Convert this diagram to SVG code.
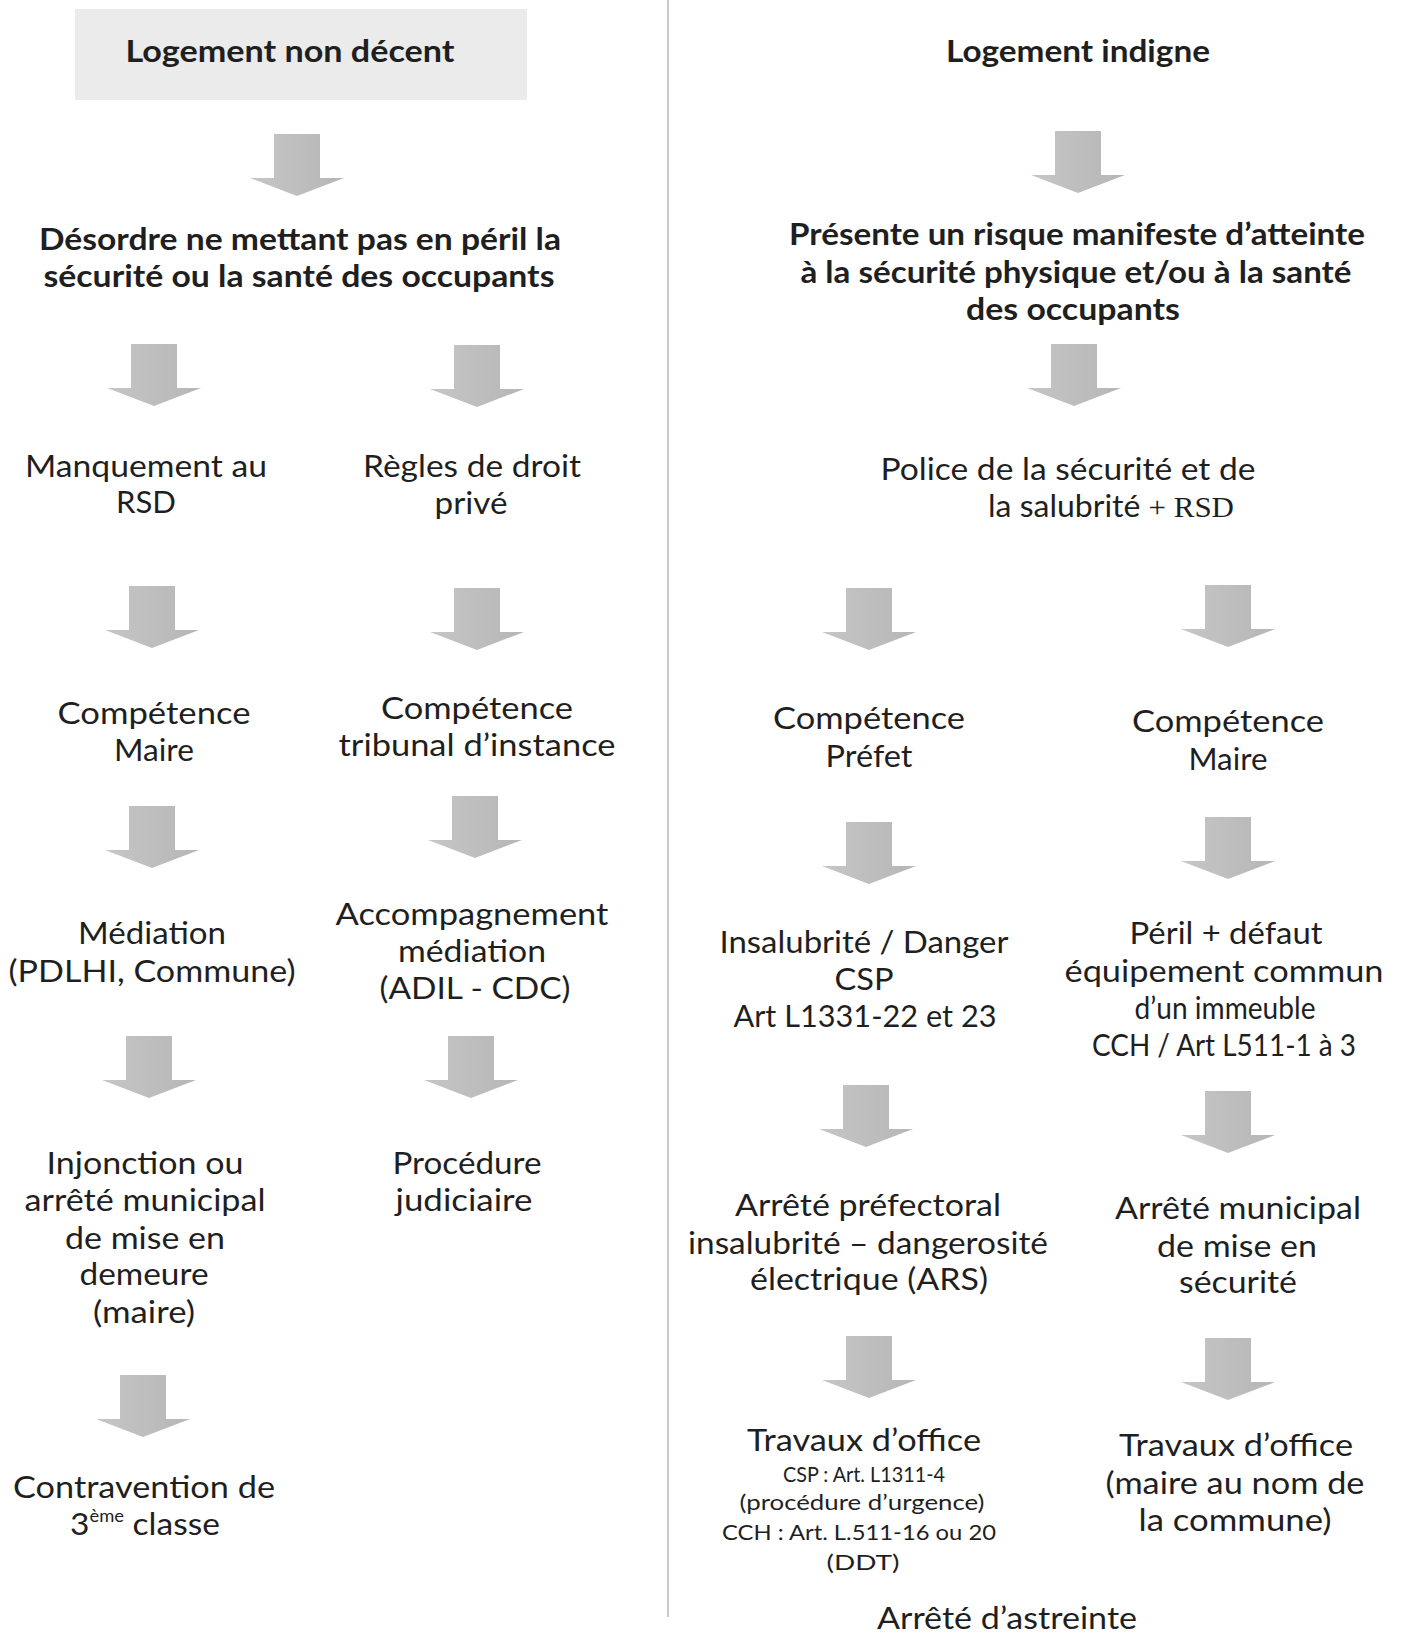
<svg xmlns="http://www.w3.org/2000/svg" width="1403" height="1636" viewBox="0 0 1403 1636">
<defs>
<linearGradient id="ag" x1="0" y1="0" x2="1" y2="0">
<stop offset="0" stop-color="#c6c6c6"/><stop offset="1" stop-color="#b6b6b6"/>
</linearGradient>
<path id="arrow" d="M-23,0 H23 V44 H47 L0,62 L-47,44 H-23 Z" fill="url(#ag)"/>
</defs>
<style>
text{font-family:Lato,"Liberation Sans",sans-serif;fill:#1f1f1f;text-anchor:middle}
.b{font-weight:700;font-size:31px}
.r{font-size:31px}
.s{font-size:22px}
.serif{font-family:"Liberation Serif",serif}
</style>
<rect width="1403" height="1636" fill="#ffffff"/>
<line x1="668" y1="0" x2="668" y2="1617" stroke="#c9c9c9" stroke-width="2"/>

<g id="connectors">
<use href="#arrow" x="297" y="134"/>
<use href="#arrow" x="1078" y="131"/>
<use href="#arrow" x="154" y="344"/>
<use href="#arrow" x="477" y="345"/>
<use href="#arrow" x="1074" y="344"/>
<use href="#arrow" x="152" y="586"/>
<use href="#arrow" x="477" y="588"/>
<use href="#arrow" x="869" y="588"/>
<use href="#arrow" x="1228" y="585"/>
<use href="#arrow" x="152" y="806"/>
<use href="#arrow" x="475" y="796"/>
<use href="#arrow" x="869" y="822"/>
<use href="#arrow" x="1228" y="817"/>
<use href="#arrow" x="149" y="1036"/>
<use href="#arrow" x="471" y="1036"/>
<use href="#arrow" x="866" y="1085"/>
<use href="#arrow" x="1228" y="1091"/>
<use href="#arrow" x="143" y="1375"/>
<use href="#arrow" x="869" y="1336"/>
<use href="#arrow" x="1228" y="1338"/>
</g>

<g id="n-logement-non-decent">
<rect x="75" y="9" width="452" height="91" fill="#ebebeb"/>
<text class="b" x="290" y="62" textLength="329" lengthAdjust="spacingAndGlyphs">Logement non décent</text>
</g>
<g id="n-logement-indigne">
<text class="b" x="1078" y="62" textLength="264" lengthAdjust="spacingAndGlyphs">Logement indigne</text>
</g>
<g id="n-desordre">
<text class="b" x="300" y="250" textLength="522" lengthAdjust="spacingAndGlyphs">Désordre ne mettant pas en péril la</text>
<text class="b" x="299" y="287" textLength="511" lengthAdjust="spacingAndGlyphs">sécurité ou la santé des occupants</text>
</g>
<g id="n-presente">
<text class="b" x="1077" y="245" textLength="576" lengthAdjust="spacingAndGlyphs">Présente un risque manifeste d’atteinte</text>
<text class="b" x="1076" y="283" textLength="551" lengthAdjust="spacingAndGlyphs">à la sécurité physique et/ou à la santé</text>
<text class="b" x="1073" y="320" textLength="214" lengthAdjust="spacingAndGlyphs">des occupants</text>
</g>

<g id="n-manquement">
<text class="r" x="146" y="477" textLength="242" lengthAdjust="spacingAndGlyphs">Manquement au</text>
<text class="r" x="146" y="513" textLength="60" lengthAdjust="spacingAndGlyphs">RSD</text>
</g>
<g id="n-regles">
<text class="r" x="472" y="477" textLength="218" lengthAdjust="spacingAndGlyphs">Règles de droit</text>
<text class="r" x="471" y="514" textLength="73" lengthAdjust="spacingAndGlyphs">privé</text>
</g>
<g id="n-police">
<text class="r" x="1068" y="480" textLength="375" lengthAdjust="spacingAndGlyphs">Police de la sécurité et de</text>
<text class="r" x="988" y="517" style="text-anchor:start" textLength="246" lengthAdjust="spacingAndGlyphs">la salubrité <tspan class="serif" font-size="30">+ RSD</tspan></text>
</g>

<g id="n-competence-maire-l">
<text class="r" x="154" y="724" textLength="193" lengthAdjust="spacingAndGlyphs">Compétence</text>
<text class="r" x="154" y="761" textLength="80" lengthAdjust="spacingAndGlyphs">Maire</text>
</g>
<g id="n-competence-tribunal">
<text class="r" x="477" y="719" textLength="192" lengthAdjust="spacingAndGlyphs">Compétence</text>
<text class="r" x="477" y="756" textLength="277" lengthAdjust="spacingAndGlyphs">tribunal d’instance</text>
</g>
<g id="n-competence-prefet">
<text class="r" x="869" y="729" textLength="192" lengthAdjust="spacingAndGlyphs">Compétence</text>
<text class="r" x="869" y="767" textLength="87" lengthAdjust="spacingAndGlyphs">Préfet</text>
</g>
<g id="n-competence-maire-r">
<text class="r" x="1228" y="732" textLength="192" lengthAdjust="spacingAndGlyphs">Compétence</text>
<text class="r" x="1228" y="770" textLength="79" lengthAdjust="spacingAndGlyphs">Maire</text>
</g>

<g id="n-mediation">
<text class="r" x="152" y="944" textLength="148" lengthAdjust="spacingAndGlyphs">Médiation</text>
<text class="r" x="152" y="982" textLength="287" lengthAdjust="spacingAndGlyphs">(PDLHI, Commune)</text>
</g>
<g id="n-accompagnement">
<text class="r" x="472" y="925" textLength="273" lengthAdjust="spacingAndGlyphs">Accompagnement</text>
<text class="r" x="472" y="962" textLength="148" lengthAdjust="spacingAndGlyphs">médiation</text>
<text class="r" x="475" y="999" textLength="191" lengthAdjust="spacingAndGlyphs">(ADIL - CDC)</text>
</g>
<g id="n-insalubrite">
<text class="r" x="864" y="953" textLength="289" lengthAdjust="spacingAndGlyphs">Insalubrité / Danger</text>
<text class="r" x="864" y="990" textLength="59" lengthAdjust="spacingAndGlyphs">CSP</text>
<text class="r" x="865" y="1027" textLength="263" lengthAdjust="spacingAndGlyphs">Art L1331-22 et 23</text>
</g>
<g id="n-peril">
<text class="r" x="1226" y="944" textLength="193" lengthAdjust="spacingAndGlyphs">Péril + défaut</text>
<text class="r" x="1224" y="982" textLength="319" lengthAdjust="spacingAndGlyphs">équipement commun</text>
<text class="r" x="1225" y="1019" textLength="181" lengthAdjust="spacingAndGlyphs">d’un immeuble</text>
<text class="r" x="1224" y="1056" textLength="264" lengthAdjust="spacingAndGlyphs">CCH / Art L511-1 à 3</text>
</g>

<g id="n-injonction">
<text class="r" x="145" y="1174" textLength="197" lengthAdjust="spacingAndGlyphs">Injonction ou</text>
<text class="r" x="145" y="1211" textLength="241" lengthAdjust="spacingAndGlyphs">arrêté municipal</text>
<text class="r" x="145" y="1249" textLength="160" lengthAdjust="spacingAndGlyphs">de mise en</text>
<text class="r" x="144" y="1285" textLength="129" lengthAdjust="spacingAndGlyphs">demeure</text>
<text class="r" x="144" y="1323" textLength="102" lengthAdjust="spacingAndGlyphs">(maire)</text>
</g>
<g id="n-procedure">
<text class="r" x="467" y="1174" textLength="149" lengthAdjust="spacingAndGlyphs">Procédure</text>
<text class="r" x="464" y="1211" textLength="137" lengthAdjust="spacingAndGlyphs">judiciaire</text>
</g>
<g id="n-arrete-prefectoral">
<text class="r" x="868" y="1216" textLength="266" lengthAdjust="spacingAndGlyphs">Arrêté préfectoral</text>
<text class="r" x="868" y="1254" textLength="360" lengthAdjust="spacingAndGlyphs">insalubrité – dangerosité</text>
<text class="r" x="869" y="1290" textLength="238" lengthAdjust="spacingAndGlyphs">électrique (ARS)</text>
</g>
<g id="n-arrete-municipal">
<text class="r" x="1238" y="1219" textLength="246" lengthAdjust="spacingAndGlyphs">Arrêté municipal</text>
<text class="r" x="1237" y="1257" textLength="160" lengthAdjust="spacingAndGlyphs">de mise en</text>
<text class="r" x="1238" y="1293" textLength="118" lengthAdjust="spacingAndGlyphs">sécurité</text>
</g>

<g id="n-contravention">
<text class="r" x="144" y="1498" textLength="262" lengthAdjust="spacingAndGlyphs">Contravention de</text>
<text class="r" x="70" y="1535" style="text-anchor:start" textLength="150" lengthAdjust="spacingAndGlyphs">3<tspan font-size="17" dy="-13">ème</tspan><tspan dy="13"> classe</tspan></text>
</g>
<g id="n-travaux-prefet">
<text class="r" x="864" y="1451" textLength="234" lengthAdjust="spacingAndGlyphs">Travaux d’office</text>
<text class="s" x="864" y="1482" textLength="162" lengthAdjust="spacingAndGlyphs">CSP : Art. L1311-4</text>
<text class="s" x="862" y="1510" textLength="245" lengthAdjust="spacingAndGlyphs">(procédure d’urgence)</text>
<text class="s" x="859" y="1540" textLength="274" lengthAdjust="spacingAndGlyphs">CCH : Art. L.511-16 ou 20</text>
<text class="s" x="863" y="1570" textLength="73" lengthAdjust="spacingAndGlyphs">(DDT)</text>
</g>
<g id="n-travaux-maire">
<text class="r" x="1236" y="1456" textLength="234" lengthAdjust="spacingAndGlyphs">Travaux d’office</text>
<text class="r" x="1235" y="1494" textLength="259" lengthAdjust="spacingAndGlyphs">(maire au nom de</text>
<text class="r" x="1235" y="1531" textLength="193" lengthAdjust="spacingAndGlyphs">la commune)</text>
</g>
<g id="n-astreinte">
<text class="r" x="1007" y="1629" textLength="260" lengthAdjust="spacingAndGlyphs">Arrêté d’astreinte</text>
</g>
</svg>
